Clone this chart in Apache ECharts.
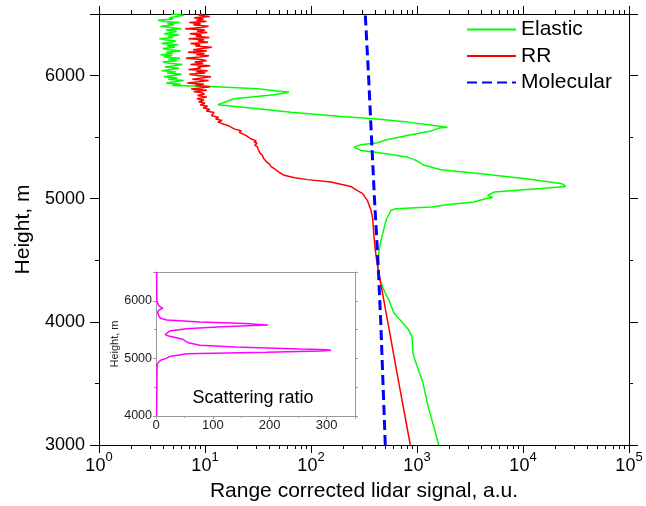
<!DOCTYPE html>
<html>
<head>
<meta charset="utf-8">
<script src="https://cdn.jsdelivr.net/npm/echarts@6/dist/echarts.min.js"></script>
<style>
html,body{margin:0;padding:0;background:#fff;}
#c{width:646px;height:506px;}
</style>
</head>
<body>
<div id="c"></div>
<script>
// ---------- DATA ----------
// Elastic signal (green): heights (m) and signal values (a.u.)
const elHeight = [3000,3140,3284,3400,3503,3600,3665,3746,3820,3876,3933,3989,4030,4071,4120,4176,4230,4281,4362,4420,4476,4530,4581,4663,4719,4780,4825,4906,4919,4933,4955,4973,5001,5009,5028,5054,5082,5100,5122,5163,5203,5236,5271,5311,5338,5379,5392,5419,5439,5455,5474,5514,5549,5575,5581,5595,5622,5650,5668,5703,5731,5763,5776,5812,5844,5865,5893,5911,
  5920,5930,5940,5950,5960,5970,5980,5990,6000,6010,6020,6030,6040,6050,6060,6070,6080,6090,6100,6110,6120,6130,6140,6150,6160,6170,6180,6190,6200,6210,6220,6230,6240,6250,6260,6270,6280,6290,6300,6310,6320,6330,6340,6350,6360,6370,6380,6390,6400,6410,6420,6430,6440,6450,6460,6470,6480,6490,6500];
const elSignal = [1600,1450,1298,1210,1140,1040,977,916,905,897,838,738,670,607,575,545,505,475,438,430,428,432,438,457,475,495,510,568,632,1355,2094,3449,4490,5180,4640,5350,14800,25300,23300,10700,4000,1680,1170,977,810,394,295,253,295,426,490,810,1355,1630,1935,1450,810,394,191,64.6,31.4,13.2,12.7,18.8,45,62,31.4,11.4,
  4.9,5.9,4.3,5.2,6.3,4.5,5.5,4.1,5.0,6.0,4.4,5.3,3.9,4.8,5.7,4.2,5.1,6.1,4.6,4.0,5.4,4.5,5.8,4.1,4.9,3.8,5.0,4.3,5.9,4.6,4.0,5.2,4.4,5.6,3.9,4.8,5.3,4.2,3.7,5.0,4.5,5.7,4.1,4.9,5.4,4.3,6.0,4.7,3.8,5.1,4.4,5.8,4.2,3.6,5.0,4.6,5.4,6.3,4.8];

// Rotational Raman signal (red)
const rrHeight = [3000,3500,4000,4476,4600,4700,4838,4906,4987,5001,5041,5054,5082,5100,5117,5135,5155,5170,5190,5215,5244,5260,5275,5285,5300,5315,5330,5352,5370,5385,5400,5419,5435,5450,5460,5470,5487,5500,5512,5528,5540,5552,5565,5580,5595,5608,5622,5635,5648,5660,5675,5690,5700,5712,5725,5738,5750,5762,5775,5788,5800,5812,5825,5838,5850,
  5860,5870,5880,5890,5900,5910,5920,5930,5940,5950,5960,5970,5980,5990,6000,6010,6020,6030,6040,6050,6060,6070,6080,6090,6100,6110,6120,6130,6140,6150,6160,6170,6180,6190,6200,6210,6220,6230,6240,6250,6260,6270,6280,6290,6300,6310,6320,6330,6340,6350,6360,6370,6380,6390,6400,6410,6420,6430,6440,6450,6460,6470,6480,6490,6500];
const rrSignal = [865,675,530,420,402,392,382,368,340,330,307,296,255,238,191,154,93,70,56,50,45,42,41,40.3,38,37.5,35.5,34.9,33,33.5,31.8,31.4,29.5,31,29,30.5,27,26,24.5,23.5,21,22,19,18.5,16.4,17,13.2,14.5,12.6,13.5,11.5,11.4,12.2,10.3,11.1,9.6,10.6,9.0,10.0,8.7,9.8,8.4,10.4,8.5,9.9,
  9.4,7.8,10.4,7.4,9.0,11.2,8.1,9.8,6.8,8.8,10.8,7.6,9.3,11.4,8.4,7.1,10.1,8.2,10.6,7.0,9.1,8.5,11.2,7.3,9.6,8.0,10.3,9.2,6.6,8.9,10.9,8.3,9.9,6.9,10.4,7.7,9.4,11.6,8.1,9.0,7.3,10.7,8.6,9.8,7.0,11.0,8.2,9.3,7.2,10.5,8.4,10.0,6.5,9.3,10.8,7.8,9.1,7.1,10.3,8.3,9.7,7.9,11.1,8.7,9.4];

// Molecular signal (blue dashed)
const molHeight = [3000,3500,4000,4500,5000,5500,6000,6500];
const molSignal = [502,478,455,428,397,372,349,325];

// Scattering ratio (inset, magenta)
const srHeight = [4000,4500,4900,4919,4940,4977,5000,5035,5065,5080,5106,5130,5141,5155,5165,5200,5229,5270,5300,5328,5357,5390,5415,5440,5474,5515,5544,5565,5579,5595,5605,5632,5667,5696,5737,5795,5830,5854,5870,5883,5912,5942,6000,6500];
const srValue  = [1,1.5,2,2,5,10,18,24.5,27,54,194,290,308,290,253,140,77,57,52,48,36,22,16,13,24,54,107,160,197,175,158,77,19,8,5,3,4,8,12,12,5,2,1.5,1];

// Axis tick settings
const xDecades = [1,10,100,1000,10000,100000];
const legendNames = ['Elastic','RR','Molecular'];

// ---------- BUILD ----------
const pairs = (xs, ys) => xs.map((x,i)=>[x, ys[i]]);
const minorLogTicks = [];
for (let d = 0; d < xDecades.length - 1; d++) {
  for (let m = 2; m <= 9; m++) minorLogTicks.push([xDecades[d]*m, 3000]);
}
const FONT = '"Liberation Sans", Arial, sans-serif';
const plain = v => String(v);
const chart = echarts.init(document.getElementById('c'), null, {renderer:'canvas'});

const option = {
  animation:false,
  backgroundColor:'#fff',
  textStyle:{fontFamily:FONT},
  grid:[
    {left:99, top:14, width:530, height:431, outerBoundsMode:'none', containLabel:false},
    {left:156, top:272, width:199, height:144, outerBoundsMode:'none', containLabel:false}
  ],
  xAxis:[
    {type:'log', logBase:10, min:1, max:100000, gridIndex:0, position:'bottom',
     splitNumber:5,
     axisLine:{show:true, onZero:false, lineStyle:{color:'#000', width:1}},
     axisTick:{show:true, inside:false, length:8, lineStyle:{color:'#000'}},
     minorTick:{show:false},
     splitLine:{show:false},
     axisLabel:{show:true, margin:6, color:'#000', fontFamily:FONT,
       formatter:function(v){ return '{b|10}{s|' + Math.round(Math.log10(v)) + '}'; },
       rich:{b:{fontSize:18, fontFamily:FONT, color:'#000', lineHeight:24, verticalAlign:'bottom'},
             s:{fontSize:13, fontFamily:FONT, color:'#000', lineHeight:24, verticalAlign:'top', padding:[0,0,3,0]}}},
     name:'Range corrected lidar signal, a.u.', nameLocation:'middle', nameGap:36,
     nameTextStyle:{fontSize:21, color:'#000', fontFamily:FONT}},
    {type:'log', logBase:10, min:1, max:100000, gridIndex:0, position:'top',
     splitNumber:5,
     axisLine:{show:true, onZero:false, lineStyle:{color:'#000', width:1}},
     axisTick:{show:true, inside:false, length:8, lineStyle:{color:'#000'}},
     splitLine:{show:false}, axisLabel:{show:false}},
    {type:'value', min:0, max:350, interval:100, gridIndex:1, position:'bottom',
     axisLine:{show:true, onZero:false, lineStyle:{color:'#999', width:1}},
     axisTick:{show:true, inside:false, length:3, lineStyle:{color:'#999'}},
     minorTick:{show:true, splitNumber:2, length:2, lineStyle:{color:'#999'}},
     splitLine:{show:false},
     axisLabel:{show:true, margin:3, fontSize:13, color:'#222', fontFamily:FONT, showMaxLabel:false, formatter:plain}},
    {type:'value', min:0, max:350, gridIndex:1, position:'top',
     axisLine:{show:true, onZero:false, lineStyle:{color:'#999', width:1}},
     axisTick:{show:false}, splitLine:{show:false}, axisLabel:{show:false}}
  ],
  yAxis:[
    {type:'value', min:3000, max:6500, interval:1000, gridIndex:0, position:'left',
     axisLine:{show:true, onZero:false, lineStyle:{color:'#000', width:1}},
     axisTick:{show:true, inside:false, length:9, lineStyle:{color:'#000'}},
     minorTick:{show:true, splitNumber:2, length:4, lineStyle:{color:'#000'}},
     splitLine:{show:false},
     axisLabel:{show:true, margin:14, fontSize:18, color:'#000', fontFamily:FONT, showMaxLabel:false, formatter:plain},
     name:'Height, m', nameLocation:'middle', nameGap:49, nameRotate:90,
     nameTextStyle:{fontSize:21, color:'#000', fontFamily:FONT}},
    {type:'value', min:3000, max:6500, interval:1000, gridIndex:0, position:'right',
     axisLine:{show:true, onZero:false, lineStyle:{color:'#000', width:1}},
     axisTick:{show:true, inside:false, length:9, lineStyle:{color:'#000'}},
     minorTick:{show:true, splitNumber:2, length:4, lineStyle:{color:'#000'}},
     splitLine:{show:false}, axisLabel:{show:false}},
    {type:'value', min:4000, max:6500, interval:1000, gridIndex:1, position:'left',
     axisLine:{show:true, onZero:false, lineStyle:{color:'#999', width:1}},
     axisTick:{show:true, inside:false, length:3, lineStyle:{color:'#999'}},
     minorTick:{show:true, splitNumber:2, length:2, lineStyle:{color:'#999'}},
     splitLine:{show:false},
     axisLabel:{show:true, margin:4, fontSize:12.5, color:'#222', fontFamily:FONT, showMaxLabel:false, formatter:plain},
     name:'Height, m', nameLocation:'middle', nameGap:30, nameRotate:90,
     nameTextStyle:{fontSize:11, color:'#222', fontFamily:FONT}},
    {type:'value', min:4000, max:6500, interval:1000, gridIndex:1, position:'right',
     axisLine:{show:true, onZero:false, lineStyle:{color:'#999', width:1}},
     axisTick:{show:true, inside:false, length:3, lineStyle:{color:'#999'}},
     minorTick:{show:true, splitNumber:2, length:3, lineStyle:{color:'#999'}},
     splitLine:{show:false}, axisLabel:{show:false}}
  ],
  legend:{
    show:true, orient:'vertical', left:466, top:19, itemWidth:49, itemHeight:14, itemGap:5.5,
    padding:0, data:legendNames,
    itemStyle:{opacity:0},
    lineStyle:{opacity:1},
    textStyle:{fontSize:21, color:'#000', fontFamily:FONT, lineHeight:21}
  },
  graphic:[
    {type:'text', x:253, y:398, z:100,
     style:{text:'Scattering ratio', font:'18px "Liberation Sans", Arial, sans-serif', fill:'#000', textAlign:'center', textVerticalAlign:'middle'}}
  ],
  series:[
    {name:legendNames[0], type:'line', xAxisIndex:0, yAxisIndex:0, data:pairs(elSignal, elHeight),
     symbol:'none', showSymbol:false, lineStyle:{color:'#00ff00', width:1.5}, itemStyle:{color:'#00ff00'}, z:3},
    {name:legendNames[1], type:'line', xAxisIndex:0, yAxisIndex:0, data:pairs(rrSignal, rrHeight),
     symbol:'none', showSymbol:false, lineStyle:{color:'#ff0000', width:1.5}, itemStyle:{color:'#ff0000'}, z:4},
    {name:legendNames[2], type:'line', xAxisIndex:0, yAxisIndex:0, data:pairs(molSignal, molHeight),
     symbol:'none', showSymbol:false, lineStyle:{color:'#0000ff', width:3, type:[10,5]}, itemStyle:{color:'#0000ff'}, z:5},
    {name:'Scattering ratio', type:'line', xAxisIndex:2, yAxisIndex:2, data:pairs(srValue, srHeight),
     symbol:'none', showSymbol:false, lineStyle:{color:'#ff00ff', width:1.5}, itemStyle:{color:'#ff00ff'}, z:3},
    {name:'minorTicks', type:'custom', xAxisIndex:0, yAxisIndex:0, clip:false, silent:true, z:10,
     data:minorLogTicks,
     renderItem:function(params, api){
       const v = api.value(0);
       const b = api.coord([v, 3000]);
       const t = api.coord([v, 6500]);
       const x = Math.round(b[0]) + 0.5;
       return {type:'group', children:[
         {type:'line', shape:{x1:x, y1:b[1], x2:x, y2:b[1]+4}, style:{stroke:'#000', lineWidth:1}},
         {type:'line', shape:{x1:x, y1:t[1], x2:x, y2:t[1]-4}, style:{stroke:'#000', lineWidth:1}}
       ]};
     }}
  ]
};
chart.setOption(option);
</script>
</body>
</html>
